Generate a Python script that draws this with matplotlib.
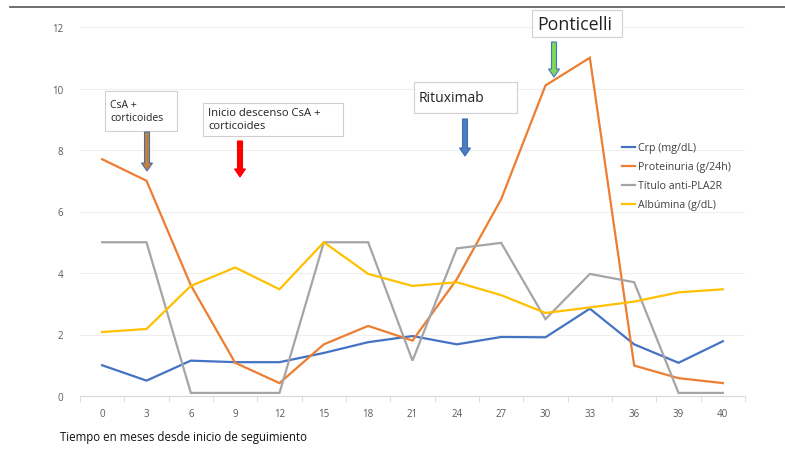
import matplotlib
matplotlib.use("Agg")
import matplotlib.pyplot as plt
from matplotlib.patches import FancyArrow, Rectangle
from matplotlib.lines import Line2D
import matplotlib.transforms as mtrans

plt.rcParams['font.family'] = ['Open Sans', 'DejaVu Sans']

months = ['0', '3', '6', '9', '12', '15', '18', '21', '24', '27', '30', '33', '36', '39', '40']
crp = [1.0, 0.5, 1.15, 1.1, 1.1, 1.4, 1.75, 1.95, 1.68, 1.92, 1.91, 2.84, 1.68, 1.08, 1.78]
proteinuria = [7.7, 7.0, 3.6, 1.08, 0.42, 1.68, 2.28, 1.8, 3.8, 6.4, 10.1, 11.0, 0.99, 0.58, 0.42]
pla2r = [5.0, 5.0, 0.1, 0.1, 0.1, 5.0, 5.0, 1.15, 4.8, 4.98, 2.5, 3.97, 3.7, 0.1, 0.1]
albumina = [2.08, 2.18, 3.58, 4.18, 3.47, 5.0, 3.97, 3.58, 3.7, 3.28, 2.7, 2.88, 3.07, 3.37, 3.47]
series_names = ['Crp (mg/dL)', 'Proteinuria (g/24h)', 'Título anti-PLA2R', 'Albúmina (g/dL)']
colors = ['#4472C4', '#ED7D31', '#A5A5A5', '#FFC000']

W, H = 785, 456
fig = plt.figure(figsize=(W / 100, H / 100), dpi=100)
ax = fig.add_axes([80 / W, (H - 397) / H, 665 / W, 369 / H])

x = list(range(len(months)))
for vals, name, c in zip([crp, proteinuria, pla2r, albumina], series_names, colors):
    ax.plot(x, vals, color=c, lw=1.6, label=name, solid_joinstyle='miter')

ax.set_xlim(-0.5, len(months) - 0.5)
ax.set_ylim(0, 12)
ax.set_yticks([0, 2, 4, 6, 8, 10, 12])
ax.set_xticks(x)
ax.set_xticklabels(months)
ax.set_xticks([i + 0.5 for i in range(-1, len(months))], minor=True)
ax.tick_params(axis='x', which='major', length=0, labelsize=7, colors='#595959', pad=9)
ax.tick_params(axis='x', which='minor', length=4, color='#D9D9D9')
ax.tick_params(axis='y', length=0, labelsize=7, colors='#595959', pad=12)
ax.grid(axis='y', color='#EFEFEF', lw=0.8)
ax.set_axisbelow(True)
for s in ['top', 'right', 'left']:
    ax.spines[s].set_visible(False)
ax.spines['bottom'].set_color('#D9D9D9')

leg = ax.legend(loc='upper left', bbox_to_anchor=((618 - 80) / 665, (397 - 139) / 369),
                frameon=False, fontsize=7.7, handlelength=1.2, handletextpad=0.25,
                labelspacing=0.75, borderaxespad=0)
for t in leg.get_texts():
    t.set_color('#404040')

# pixel transform (origin top-left)
pix = mtrans.Affine2D().scale(1 / W, -1 / H).translate(0, 1) + fig.transFigure

# top rule
fig.add_artist(Line2D([10, 785], [8, 8], transform=pix, color='#555555', lw=1.2))

def box(x0, y0, w, h, text, fs):
    fig.add_artist(Rectangle((x0, y0), w, h, transform=pix, facecolor='white',
                             edgecolor='#D0D0D0', lw=0.8))
    fig.text(*pix.transform((x0 + 5, y0 + h / 2)),
             text, transform=None, fontsize=fs, va='center', ha='left', color='#222222',
             linespacing=1.25)

def arrow(xc, y0, y1, face, edge, width=5, hw=11):
    fig.add_artist(FancyArrow(xc, y0, 0, y1 - y0, width=width, head_width=hw,
                              head_length=8, length_includes_head=True, transform=pix,
                              facecolor=face, edgecolor=edge, lw=0.8))

box(105, 92, 72, 40, 'CsA +\ncorticoides', 7.5)
arrow(147, 133, 172, '#C0813C', '#4A6FA8')
box(203, 104, 140, 33, 'Inicio descenso CsA +\ncorticoides', 8.1)
arrow(240, 142, 178, '#FF0000', '#FF0000')
box(414, 83, 103, 31, 'Rituximab', 10)
arrow(465, 120, 157, '#4A7DC4', '#3E6BAA')
box(532, 11, 90, 27, 'Ponticelli', 12.8)
arrow(554, 43, 78, '#7ED957', '#4472C4')

fig.text(*pix.transform((60, 438)), 'Tiempo en meses desde inicio de seguimiento',
         transform=None, fontsize=8.3, va='center', ha='left', color='#111111')

fig.savefig('out.png', dpi=100)
